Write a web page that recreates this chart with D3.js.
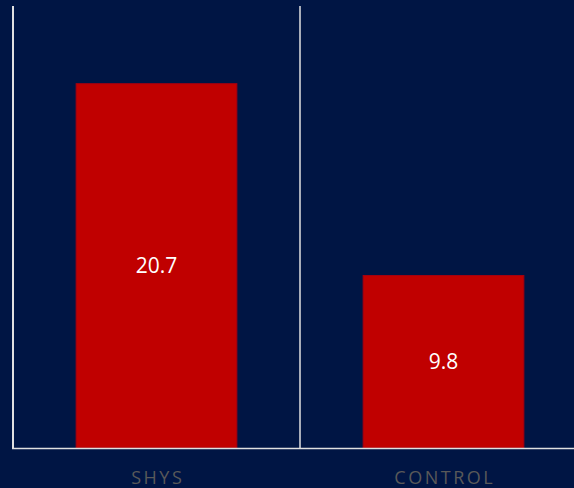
<!DOCTYPE html>
<html>
<head>
<meta charset="utf-8">
<script src="https://cdn.jsdelivr.net/npm/d3@7"></script>
<style>
  html, body { margin: 0; padding: 0; background: #001544; }
  svg { display: block; }
</style>
</head>
<body>
<svg id="chart" width="574" height="488"></svg>
<script>
const categories = ["SHYS", "CONTROL"];
const values = [20.7, 9.8];
const valueLabels = ["20.7", "9.8"];

const W = 574, H = 488;
const svg = d3.select("#chart");
svg.append("rect").attr("width", W).attr("height", H).attr("fill", "#001544");

const x = d3.scaleBand().domain(categories).range([13, 587])
  .paddingInner(0.44).paddingOuter(0.22);
const y = d3.scaleLinear().domain([0, 25]).range([448, 8]);

svg.selectAll("rect.bar").data(values).join("rect")
  .attr("class", "bar")
  .attr("x", (d, i) => x(categories[i]))
  .attr("y", d => y(d))
  .attr("width", x.bandwidth())
  .attr("height", d => y(0) - y(d))
  .attr("fill", "#c00000")
  .attr("stroke", "#a50010")
  .attr("stroke-width", 1);

svg.selectAll("text.val").data(values).join("text")
  .attr("class", "val")
  .attr("x", (d, i) => x(categories[i]) + x.bandwidth() / 2)
  .attr("y", d => (y(d) + y(0)) / 2)
  .attr("dy", "0.35em")
  .attr("text-anchor", "middle")
  .attr("fill", "#ffffff")
  .style("font-family", "'Open Sans', sans-serif")
  .style("font-size", "21px")
  .text((d, i) => valueLabels[i]);

// axes lines
const step = x.step();
svg.append("line").attr("x1", 13).attr("x2", 13).attr("y1", 6).attr("y2", y(0))
  .attr("stroke", "#e0e0e0").attr("stroke-width", 2);
svg.append("line").attr("x1", 13 + step).attr("x2", 13 + step).attr("y1", 6).attr("y2", y(0))
  .attr("stroke", "#e0e0e0").attr("stroke-width", 1.5);
svg.append("line").attr("x1", 12).attr("x2", W).attr("y1", y(0) + 0.5).attr("y2", y(0) + 0.5)
  .attr("stroke", "#e0e0e0").attr("stroke-width", 1.5);

svg.selectAll("text.cat").data(categories).join("text")
  .attr("class", "cat")
  .attr("x", d => x(d) + x.bandwidth() / 2 + 1.25)
  .attr("y", 484)
  .attr("text-anchor", "middle")
  .attr("fill", "#595959")
  .style("font-family", "'Open Sans', sans-serif")
  .style("font-size", "18px")
  .style("letter-spacing", "2.5px")
  .text(d => d);
</script>
</body>
</html>
